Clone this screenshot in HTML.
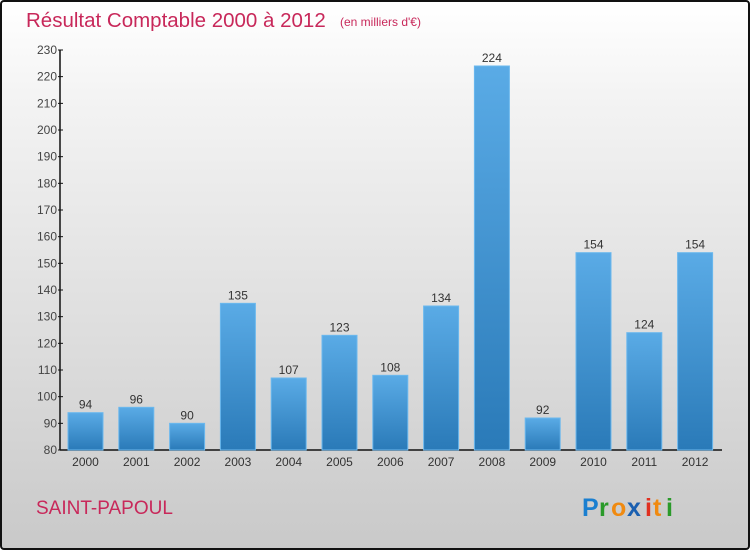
<!DOCTYPE html>
<html><head><meta charset="utf-8"><style>
body{margin:0;}
#wrap{position:relative;width:750px;height:550px;box-sizing:border-box;border:2px solid #111;border-radius:4px;background:linear-gradient(#ffffff,#f2f2f2 20%,#d9d9d9 70%,#c9c9c9);overflow:hidden;font-family:"Liberation Sans",sans-serif;}
svg text{font-family:"Liberation Sans",sans-serif;}
</style></head><body>
<div id="wrap">
<svg width="750" height="550" style="position:absolute;left:-2px;top:-2px">
<defs><linearGradient id="bg" x1="0" y1="0" x2="0" y2="1"><stop offset="0" stop-color="#5aabe6"/><stop offset="1" stop-color="#2a7ab8"/></linearGradient></defs>
<text x="26" y="27" font-size="20.5" fill="#c8285a">Résultat Comptable 2000 à 2012</text>
<text x="340" y="26" font-size="12" fill="#c8285a">(en milliers d'€)</text>
<text x="36" y="514" font-size="19" fill="#c8285a">SAINT-PAPOUL</text>
<g font-size="25" font-weight="bold">
<text x="582" y="516" fill="#1a7fd0">P</text><text x="599" y="516" fill="#2a9a2a">r</text><text x="611" y="516" fill="#f08a10">o</text><text x="627" y="516" fill="#1a5fb0">x</text><text x="645" y="516" fill="#e03020">i</text><text x="653" y="516" fill="#f08a10">t</text><text x="666" y="516" fill="#2a9a2a">i</text>
</g>
<g id="axes"></g><g id="bars"></g>
</svg>
</div>
<script>
const categories=["2000","2001","2002","2003","2004","2005","2006","2007","2008","2009","2010","2011","2012"];
const values=[94,96,90,135,107,123,108,134,224,92,154,124,154];
const yTicks=[80,90,100,110,120,130,140,150,160,170,180,190,200,210,220,230];
const yMin=80,yMax=230,plotTop=50,plotBottom=450,x0=60,x1=722;
const y=v=>plotBottom-(v-yMin)/(yMax-yMin)*(plotBottom-plotTop);
const xc=i=>85.5+i*50.8;
const NS="http://www.w3.org/2000/svg";
function mk(t,a,p){const e=document.createElementNS(NS,t);for(const k in a)e.setAttribute(k,a[k]);p.appendChild(e);return e;}
const ax=document.getElementById('axes'),bs=document.getElementById('bars');
let l=mk('line',{x1:x0,y1:plotTop,x2:x0,y2:plotBottom,stroke:'#111','stroke-width':1.5},ax);


l=mk('line',{x1:x0,y1:plotBottom,x2:x1,y2:plotBottom,stroke:'#111','stroke-width':1.5},ax);


yTicks.forEach(v=>{
 mk('line',{x1:x0-2,y1:y(v),x2:x0+3,y2:y(v),stroke:'#111'},ax);
 const t=mk('text',{x:x0-3,y:y(v)+4,'font-size':12,'text-anchor':'end',fill:'#444'},ax);t.textContent=v;
 
 
});
categories.forEach((c,i)=>{
 const v=values[i];
 const r=mk('rect',{x:xc(i)-17.5,y:y(v),width:35,height:plotBottom-y(v),fill:'url(#bg)',stroke:'#6bb8ee','stroke-width':1},bs);
 
 
 const t=mk('text',{x:xc(i),y:y(v)-4,'font-size':12,'text-anchor':'middle',fill:'#333'},bs);t.textContent=v;
 
 
 const tx=mk('text',{x:xc(i),y:plotBottom+16,'font-size':12,'text-anchor':'middle',fill:'#333'},ax);tx.textContent=c;
 
 
});
</script>
</body></html>
